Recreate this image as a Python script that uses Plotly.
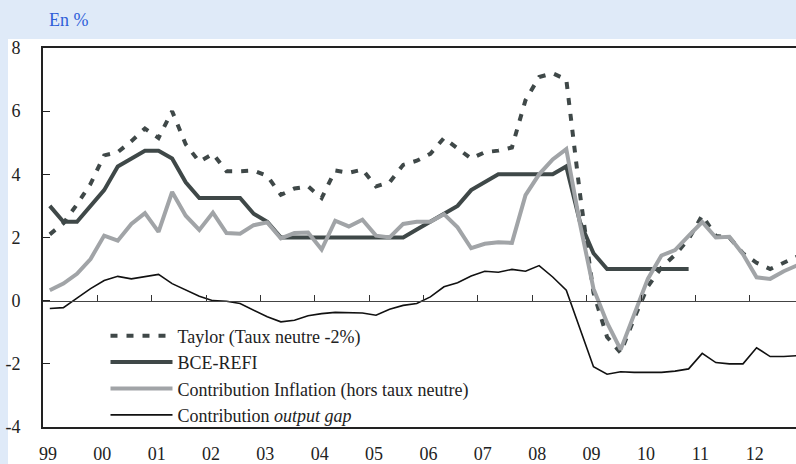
import plotly.graph_objects as go

# Quarterly data, 1999Q1 .. 2012Q4
start_year = 1999
n_q = 56
quarters = [f"{start_year + i // 4}T{i % 4 + 1}" for i in range(n_q)]
x_pos = [start_year + (i + 0.5) / 4 for i in range(n_q)]

taylor = [2.1, 2.45, 3.05, 3.7, 4.6, 4.7, 5.05, 5.45, 5.15, 6.0,
          4.95, 4.4, 4.65, 4.1, 4.1, 4.12, 3.95, 3.35, 3.55, 3.62,
          3.25, 4.12, 4.05, 4.15, 3.62, 3.75, 4.3, 4.43, 4.65, 5.15,
          4.82, 4.5, 4.7, 4.75, 4.85, 6.35, 7.08, 7.2, 7.0, 3.4,
          0.25, -1.15, -1.65, -0.55, 0.45, 1.05, 1.45, 1.95, 2.7, 2.05,
          2.0, 1.5, 1.2, 1.0, 1.2, 1.4]

bce_refi = [3.0, 2.5, 2.5, 3.0, 3.5, 4.25, 4.5, 4.75, 4.75, 4.5,
            3.75, 3.25, 3.25, 3.25, 3.25, 2.75, 2.5, 2.0, 2.0, 2.0,
            2.0, 2.0, 2.0, 2.0, 2.0, 2.0, 2.0, 2.25, 2.5, 2.75,
            3.0, 3.5, 3.75, 4.0, 4.0, 4.0, 4.0, 4.0, 4.25, 2.5,
            1.5, 1.0, 1.0, 1.0, 1.0, 1.0, 1.0, 1.0]

inflation = [0.33, 0.54, 0.85, 1.32, 2.06, 1.9, 2.43, 2.77, 2.18, 3.44,
             2.69, 2.24, 2.79, 2.14, 2.12, 2.39, 2.48, 1.97, 2.14, 2.16,
             1.62, 2.53, 2.35, 2.56, 2.06, 2.0, 2.43, 2.5, 2.5, 2.74,
             2.32, 1.66, 1.8, 1.85, 1.83, 3.34, 4.0, 4.47, 4.8, 2.45,
             0.38, -0.7, -1.55, -0.41, 0.69, 1.43, 1.6, 2.05, 2.49, 2.0,
             2.02, 1.47, 0.74, 0.69, 0.93, 1.12]

output_gap = [-0.25, -0.22, 0.08, 0.38, 0.64, 0.77, 0.69, 0.77, 0.83, 0.54,
              0.33, 0.14, 0.0, -0.02, -0.09, -0.3, -0.51, -0.67, -0.62, -0.48,
              -0.41, -0.37, -0.37, -0.39, -0.46, -0.27, -0.15, -0.09, 0.12, 0.44,
              0.57, 0.78, 0.93, 0.9, 0.99, 0.93, 1.11, 0.75, 0.33, -0.85,
              -2.09, -2.33, -2.25, -2.27, -2.27, -2.27, -2.23, -2.16, -1.67, -1.96,
              -2.0, -2.0, -1.49, -1.77, -1.77, -1.74]

year_labels = ["99", "00", "01", "02", "03", "04", "05", "06", "07",
               "08", "09", "10", "11", "12"]
year_ticks = list(range(1999, 2013))
y_ticks = [-4, -2, 0, 2, 4, 6, 8]
y_labels = ["-4", "-2", "0", "2", "4", "6", "8"]

DARK = "#3f4848"
GRAY = "#a1a4a7"
FONT = "Liberation Serif, Noto Serif, DejaVu Serif, Times New Roman, Times, serif"
FS = 18

fig = go.Figure()

fig.add_trace(go.Scatter(x=x_pos, y=output_gap, mode="lines",
                         name="Contribution <i>output gap</i>",
                         line=dict(color="#111111", width=1.6),
                         legendrank=4))
fig.add_trace(go.Scatter(x=x_pos, y=taylor, mode="lines",
                         name="Taylor (Taux neutre -2%)",
                         line=dict(color=DARK, width=4, dash="7px,9px"),
                         legendrank=1))
fig.add_trace(go.Scatter(x=x_pos[:len(bce_refi)], y=bce_refi, mode="lines",
                         name="BCE-REFI",
                         line=dict(color=DARK, width=4),
                         legendrank=2))
fig.add_trace(go.Scatter(x=x_pos, y=inflation, mode="lines",
                         name="Contribution Inflation (hors taux neutre)",
                         line=dict(color=GRAY, width=4),
                         legendrank=3))
# helper trace for the zero-line axis with year ticks
fig.add_trace(go.Scatter(x=[year_ticks[0]], y=[None], xaxis="x2",
                         showlegend=False, hoverinfo="skip"))

x_range = [1999, 2012.85]

fig.update_layout(
    width=796, height=464,
    margin=dict(l=43, r=0, t=48, b=34),
    paper_bgcolor="#dfeaf8",
    plot_bgcolor="rgba(0,0,0,0)",
    font=dict(family=FONT, size=FS, color="#222222"),
    showlegend=True,
    legend=dict(x=0.083, y=0.289, xanchor="left", yanchor="top",
                bgcolor="rgba(0,0,0,0)", borderwidth=0,
                font=dict(family=FONT, size=FS, color="#222222"),
                tracegroupgap=0, itemwidth=62),
    xaxis=dict(range=x_range, showgrid=False, zeroline=False,
               tickvals=[y + 0.09 for y in year_ticks], ticktext=year_labels,
               ticks="", showline=True, mirror=True, linewidth=2,
               linecolor="#222222", ticklabelstandoff=9,
               tickfont=dict(family=FONT, size=FS, color="#222222")),
    xaxis2=dict(range=x_range, overlaying="x", anchor="free", position=1/3,
                side="bottom", showgrid=False, zeroline=False,
                tickvals=year_ticks[1:], showticklabels=False,
                ticks="inside", ticklen=6, tickwidth=1, tickcolor="#333333",
                showline=True, linewidth=1, linecolor="#444444"),
    yaxis=dict(range=[-4, 8], tickvals=y_ticks, ticktext=y_labels,
               showgrid=False, zeroline=False, showline=True, linewidth=2,
               linecolor="#222222", ticks="inside", ticklen=7,
               tickcolor="#222222", ticklabelstandoff=17,
               tickfont=dict(family=FONT, size=FS, color="#222222")),
    shapes=[dict(type="rect", xref="paper", yref="paper",
                 x0=-0.0465, x1=1.02, y0=-0.2, y1=1.0236,
                 fillcolor="white", line=dict(width=0), layer="below")],
    annotations=[dict(text="En %", xref="paper", yref="paper",
                      x=0.005, y=1.073, xanchor="left", yanchor="middle",
                      showarrow=False,
                      font=dict(family=FONT, size=FS, color="#2f5fd8"))],
)

fig.write_html(
    "out.html",
    config={"displayModeBar": False},
    post_script="document.body.style.margin='0';"
                "document.body.style.background='#dfeaf8';"
                "document.body.style.overflow='hidden';",
)
